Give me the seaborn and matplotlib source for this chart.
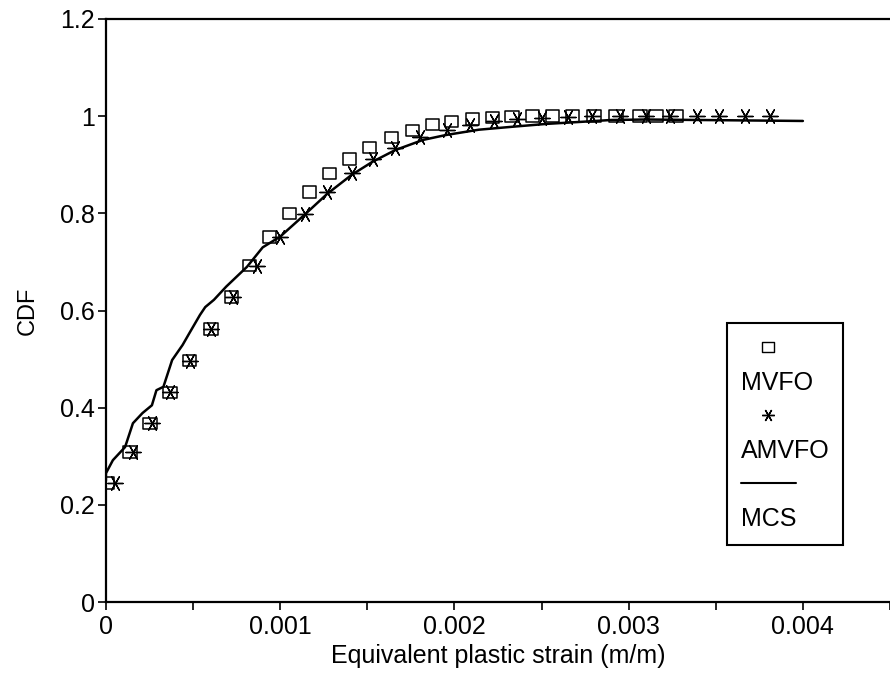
import numpy as np
import pandas as pd
import matplotlib
matplotlib.use("Agg")
import matplotlib.pyplot as plt
from matplotlib.path import Path
from matplotlib.lines import Line2D
import seaborn as sns

# Datos
mvfo_x = [0.00001, 0.000138, 0.000252, 0.000367, 0.000481, 0.000602, 0.000722, 0.000825,
          0.00094, 0.001054, 0.001169, 0.001284, 0.001398, 0.001513, 0.001639, 0.001759,
          0.001874, 0.001983, 0.002103, 0.002218, 0.002332, 0.002447, 0.002562, 0.002677,
          0.002802, 0.002928, 0.003066, 0.003158, 0.003272]
amvfo_x = [0.00005, 0.000155, 0.000264, 0.000367, 0.000481, 0.000602, 0.000728, 0.000865,
           0.000997, 0.00114, 0.00127, 0.00141, 0.00153, 0.00166, 0.0018, 0.00196,
           0.00209, 0.00223, 0.00236, 0.0025, 0.00265, 0.00279, 0.00295, 0.0031,
           0.00324, 0.00339, 0.00352, 0.00367, 0.00381]
cdf_levels = [0.245, 0.309, 0.368, 0.432, 0.497, 0.562, 0.628, 0.692, 0.751, 0.799,
              0.844, 0.882, 0.912, 0.935, 0.956, 0.971, 0.982, 0.989, 0.994, 0.997,
              0.999, 1.0, 1.0, 1.0, 1.0, 1.0, 1.0, 1.0, 1.0]

mcs_x = [0, 0.0, 0.00004, 0.00011, 0.000155, 0.00021, 0.000264, 0.00029, 0.00033, 0.00038,
         0.00044, 0.00048, 0.00054, 0.00057, 0.00062, 0.00069, 0.00081, 0.0009, 0.001,
         0.00114, 0.00127, 0.00141, 0.00153, 0.00166, 0.00182, 0.00195, 0.00214, 0.00233,
         0.00253, 0.00272, 0.0029, 0.0031, 0.004]
mcs_y = [0.25, 0.265, 0.292, 0.319, 0.368, 0.389, 0.405, 0.436, 0.443, 0.498,
         0.529, 0.554, 0.591, 0.607, 0.622, 0.649, 0.69, 0.73, 0.752,
         0.797, 0.84, 0.879, 0.906, 0.93, 0.951, 0.961, 0.972, 0.978,
         0.984, 0.988, 0.992, 0.993, 0.99]

x_ticks = [0, 0.001, 0.002, 0.003, 0.004]
x_ticklabels = ["0", "0.001", "0.002", "0.003", "0.004"]
y_ticks = [0, 0.2, 0.4, 0.6, 0.8, 1.0, 1.2]
y_ticklabels = ["0", "0.2", "0.4", "0.6", "0.8", "1", "1.2"]

df_mvfo = pd.DataFrame({"x": mvfo_x, "cdf": cdf_levels})
df_amvfo = pd.DataFrame({"x": amvfo_x, "cdf": cdf_levels})

sns.set_style("ticks")
plt.rcParams["font.family"] = ["Liberation Sans", "DejaVu Sans"]
plt.rcParams["text.color"] = "black"
plt.rcParams["axes.labelcolor"] = "black"

# marcador rectangular (un poco mas ancho que alto)
rect = Path([(-1.2, -1.0), (1.2, -1.0), (1.2, 1.0), (-1.2, 1.0), (-1.2, -1.0)],
            [Path.MOVETO, Path.LINETO, Path.LINETO, Path.LINETO, Path.CLOSEPOLY])
star = (6, 2, 90)

fig = plt.figure(figsize=(8.9, 6.75), dpi=100)
ax = fig.add_axes([0.119, 0.108, 0.881, 0.864])

ax.plot(mcs_x, mcs_y, color="black", linewidth=1.8, zorder=2)
sns.scatterplot(data=df_mvfo, x="x", y="cdf", marker=rect, s=95, facecolor="none",
                edgecolor="black", linewidth=1.1, ax=ax, zorder=3)
sns.scatterplot(data=df_amvfo, x="x", y="cdf", marker=star, s=120, color="black",
                linewidth=1.0, ax=ax, zorder=3)

ax.set_xlim(0, 0.004493)
ax.set_ylim(0, 1.2)
ax.set_xticks(x_ticks)
ax.set_xticklabels(x_ticklabels)
ax.set_xticks([0.0005, 0.0015, 0.0025, 0.0035, 0.0045], minor=True)
ax.set_yticks(y_ticks)
ax.set_yticklabels(y_ticklabels)
ax.tick_params(axis="both", which="both", direction="out", length=6, width=1.2,
               labelsize=18, color="black", labelcolor="black")
ax.tick_params(axis="y", pad=2)
ax.tick_params(axis="x", pad=3)

for side in ["left", "top", "bottom"]:
    ax.spines[side].set_linewidth(1.6)
    ax.spines[side].set_color("black")
ax.spines["right"].set_visible(False)

ax.set_xlabel("Equivalent plastic strain (m/m)", fontsize=18, labelpad=4)
ax.set_ylabel("CDF", fontsize=17, labelpad=15)

# Leyenda: marcador encima de la etiqueta
blank = Line2D([], [], linestyle="none", marker=None)
h_sq = Line2D([], [], linestyle="none", marker=rect, markersize=9, markerfacecolor="none",
              markeredgecolor="black", markeredgewidth=1.0)
h_st = Line2D([], [], linestyle="none", marker=star, markersize=9, color="black",
              markeredgewidth=1.0)
h_ln = Line2D([], [], color="black", linewidth=1.5)
leg = ax.legend([h_sq, blank, h_st, blank, h_ln, blank],
                ["", "MVFO", "", "AMVFO", "", "MCS"],
                loc="upper left", bbox_to_anchor=(727 / 890, 1 - 323 / 675),
                bbox_transform=fig.transFigure, borderaxespad=0,
                fontsize=18, handlelength=2.2, handletextpad=-2.2,
                labelspacing=0.4, borderpad=0.55, frameon=True, fancybox=False,
                edgecolor="black", framealpha=1)
leg.get_frame().set_linewidth(1.5)
for t in leg.get_texts():
    t.set_color("black")

plt.savefig("out.png", dpi=100)
